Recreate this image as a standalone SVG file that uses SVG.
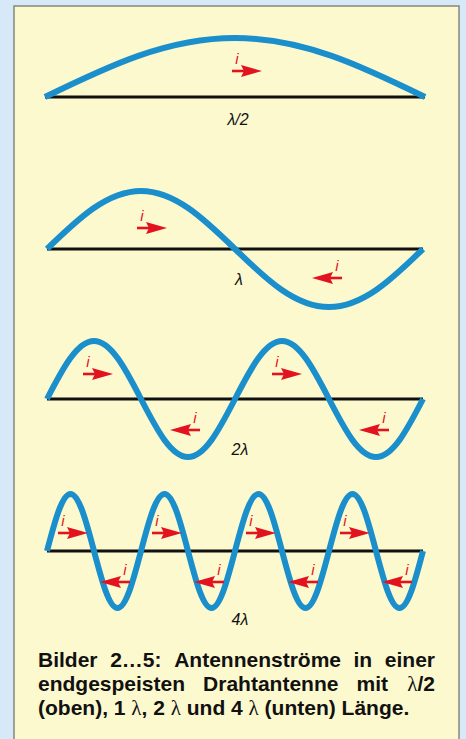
<svg xmlns="http://www.w3.org/2000/svg" xmlns:xlink="http://www.w3.org/1999/xlink" width="466" height="739" viewBox="0 0 466 739">
<style>
.wire{stroke:#111;stroke-width:3;fill:none}
.wave{stroke:#1b8fcb;stroke-width:6;fill:none;stroke-linecap:butt;stroke-linejoin:round}
.ci{font-family:"Liberation Sans",Arial,sans-serif;font-style:italic;font-size:15px;fill:#e2131f;text-anchor:middle}
.lbl{font-family:"Liberation Sans",Arial,sans-serif;font-style:italic;font-size:16px;fill:#111;text-anchor:middle}
.cap{font-family:"Liberation Sans",Arial,sans-serif;font-weight:bold;font-size:21px;fill:#111}
.lam{font-family:"Liberation Serif","Times New Roman",serif;font-weight:normal}
</style>
<defs>
<g id="arr">
<line x1="0" y1="0" x2="12" y2="0" stroke="#e2131f" stroke-width="2.6"/>
<polygon points="9,-6 30,0 9,6 12,0" fill="#e2131f"/>
</g>
</defs>
<rect x="0" y="0" width="466" height="739" fill="#d7e9f9"/>
<g id="frame">
<rect x="14" y="6" width="445" height="760" fill="#fdf9cf" stroke="#85877c" stroke-width="1.5"/>
</g>

<g id="fig-half-lambda">
<line class="wire" x1="45" y1="97" x2="425" y2="97"/>
<path class="wave" d="M45,97 C108.5,66 167,38 235,38 S361.5,66 425,97"/>
<use xlink:href="#arr" transform="translate(232,71)"/>
<text class="ci" x="237" y="64">i</text>
<text class="lbl" x="238" y="125" font-size="17">λ/2</text>
</g>

<g id="fig-1-lambda">
<line class="wire" x1="47" y1="249" x2="423" y2="249"/>
<path class="wave" d="M47,249 C78.4,218.5 107.3,191 141,191 S203.6,218.5 235,249 S295.3,307 329,307 S391.6,279.5 423,249"/>
<use xlink:href="#arr" transform="translate(137,228)"/>
<text class="ci" x="142" y="221">i</text>
<use xlink:href="#arr" transform="translate(342,278) scale(-1,1)"/>
<text class="ci" x="337" y="271">i</text>
<text class="lbl" x="239" y="285" font-size="14" font-style="normal">λ</text>
</g>

<g id="fig-2-lambda">
<line class="wire" x1="47" y1="399" x2="423" y2="399"/>
<path class="wave" d="M47,399 C62.7,368.5 77.2,341 94,341 S125.3,368.5 141,399 S171.2,457 188,457 S219.3,429.5 235,399 S265.2,341 282,341 S313.3,368.5 329,399 S359.2,457 376,457 S407.3,429.5 423,399"/>
<use xlink:href="#arr" transform="translate(83,374)"/>
<text class="ci" x="88" y="367">i</text>
<use xlink:href="#arr" transform="translate(272,374)"/>
<text class="ci" x="277" y="367">i</text>
<use xlink:href="#arr" transform="translate(200,430) scale(-1,1)"/>
<text class="ci" x="195" y="423">i</text>
<use xlink:href="#arr" transform="translate(389,430) scale(-1,1)"/>
<text class="ci" x="384" y="423">i</text>
<text class="lbl" x="240" y="455" font-size="15">2λ</text>
</g>

<g id="fig-4-lambda">
<line class="wire" x1="47" y1="551" x2="423" y2="551"/>
<path class="wave" d="M47,551 C54.86,521.1 62.08,494 70.5,494 S86.14,521.1 94,551 S109.08,608 117.5,608 S133.14,580.9 141,551 S156.08,494 164.5,494 S180.14,521.1 188,551 S203.08,608 211.5,608 S227.14,580.9 235,551 S250.08,494 258.5,494 S274.14,521.1 282,551 S297.08,608 305.5,608 S321.14,580.9 329,551 S344.08,494 352.5,494 S368.14,521.1 376,551 S391.08,608 399.5,608 S415.14,580.9 423,551"/>
<use xlink:href="#arr" transform="translate(58,533)"/>
<text class="ci" x="63" y="526">i</text>
<use xlink:href="#arr" transform="translate(152,533)"/>
<text class="ci" x="157" y="526">i</text>
<use xlink:href="#arr" transform="translate(246,533)"/>
<text class="ci" x="251" y="526">i</text>
<use xlink:href="#arr" transform="translate(340,533)"/>
<text class="ci" x="345" y="526">i</text>
<use xlink:href="#arr" transform="translate(130,582) scale(-1,1)"/>
<text class="ci" x="125" y="575">i</text>
<use xlink:href="#arr" transform="translate(224,582) scale(-1,1)"/>
<text class="ci" x="219" y="575">i</text>
<use xlink:href="#arr" transform="translate(318,582) scale(-1,1)"/>
<text class="ci" x="313" y="575">i</text>
<use xlink:href="#arr" transform="translate(412,582) scale(-1,1)"/>
<text class="ci" x="407" y="575">i</text>
<text class="lbl" x="240" y="625" font-size="17">4λ</text>
</g>

<g id="caption">
<text class="cap" x="38" y="667">Bilder</text>
<text class="cap" x="110.2" y="667">2…5:</text>
<text class="cap" x="174.2" y="667">Antennenströme</text>
<text class="cap" x="353.5" y="667">in</text>
<text class="cap" x="435" y="667" text-anchor="end">einer</text>
<text class="cap" x="38" y="691">endgespeisten</text>
<text class="cap" x="203.1" y="691">Drahtantenne</text>
<text class="cap" x="356.5" y="691">mit</text>
<text class="cap" x="435" y="691" text-anchor="end"><tspan class="lam">λ</tspan>/2</text>
<text class="cap" x="38" y="715">(oben), 1 <tspan class="lam">λ</tspan>, 2 <tspan class="lam">λ</tspan> und 4 <tspan class="lam">λ</tspan> (unten) Länge.</text>
</g>
</svg>
